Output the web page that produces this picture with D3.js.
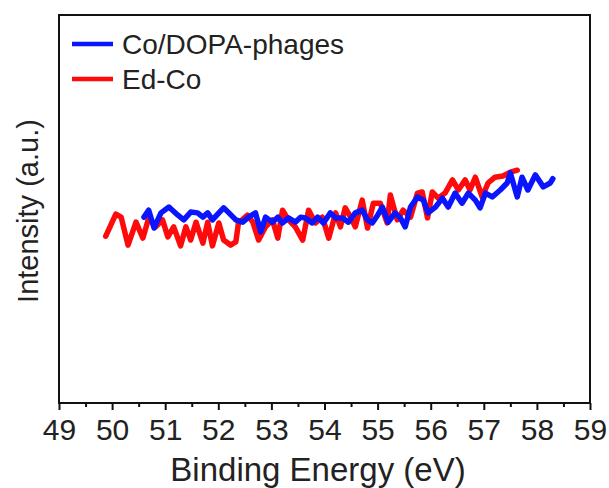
<!DOCTYPE html>
<html>
<head>
<meta charset="utf-8">
<script src="https://cdn.jsdelivr.net/npm/d3@7"></script>
<style>
  html, body { margin: 0; padding: 0; background: #fff; }
  svg { display: block; font-family: "Liberation Sans", Arial, sans-serif; }
</style>
</head>
<body>
<svg id="chart" width="609" height="488"></svg>
<script>
// Co 3p region XPS spectra (binding energy in eV, intensity in arbitrary units)
const seriesNames = ["Co/DOPA-phages", "Ed-Co"];
const seriesColors = ["#0a14ff", "#ff0a0a"];

const phageEnergy = [50.60, 50.69, 50.79, 50.92, 51.07, 51.24, 51.35, 51.48, 51.61, 51.71,
  51.80, 51.89, 52.01, 52.10, 52.20, 52.33, 52.46, 52.57, 52.70, 52.80,
  52.89, 53.02, 53.12, 53.21, 53.32, 53.45, 53.55, 53.64, 53.77, 53.87,
  53.98, 54.11, 54.21, 54.34, 54.45, 54.58, 54.71, 54.81, 54.90, 55.00,
  55.09, 55.20, 55.33, 55.43, 55.52, 55.62, 55.75, 55.86, 55.95, 56.09,
  56.22, 56.33, 56.46, 56.59, 56.71, 56.84, 56.93, 57.03, 57.16, 57.31,
  57.44, 57.50, 57.63, 57.72, 57.83, 57.97, 58.12, 58.25, 58.30];
const phageIntensity = [479, 497, 451, 490, 505, 484, 472, 492, 490, 479,
  490, 472, 490, 503, 490, 472, 466, 479, 490, 441,
  479, 466, 479, 464, 477, 466, 479, 477, 464, 479,
  464, 490, 477, 477, 466, 490, 497, 472, 464, 484,
  505, 466, 490, 477, 454, 505, 531, 523, 490, 505,
  528, 505, 541, 515, 541, 523, 503, 541, 531, 549,
  567, 593, 531, 582, 549, 588, 557, 567, 578];

const edEnergy = [49.88, 50.07, 50.17, 50.30, 50.45, 50.58, 50.69, 50.82, 50.95, 51.05,
  51.16, 51.29, 51.39, 51.48, 51.58, 51.71, 51.80, 51.89, 52.01, 52.10,
  52.23, 52.33, 52.38, 52.55, 52.65, 52.76, 52.89, 53.02, 53.12, 53.21,
  53.32, 53.45, 53.59, 53.70, 53.83, 53.96, 54.08, 54.21, 54.30, 54.39,
  54.49, 54.58, 54.71, 54.81, 54.92, 55.05, 55.18, 55.24, 55.37, 55.48,
  55.62, 55.75, 55.84, 55.94, 56.03, 56.14, 56.27, 56.41, 56.52, 56.65,
  56.74, 56.84, 56.97, 57.08, 57.21, 57.36, 57.50, 57.63];
const edIntensity = [430, 487, 479, 407, 466, 425, 477, 454, 472, 428,
  454, 405, 454, 420, 466, 412, 466, 405, 464, 420,
  407, 415, 464, 484, 466, 420, 454, 472, 425, 497,
  472, 454, 420, 497, 464, 479, 425, 490, 454, 503,
  479, 454, 523, 451, 515, 515, 464, 536, 472, 497,
  479, 541, 544, 477, 544, 528, 541, 575, 549, 575,
  549, 582, 531, 567, 582, 585, 595, 600];

const xTicks = [49, 50, 51, 52, 53, 54, 55, 56, 57, 58, 59];
const xMinorTicks = [49.5, 50.5, 51.5, 52.5, 53.5, 54.5, 55.5, 56.5, 57.5, 58.5];
const xTitle = "Binding Energy (eV)";
const yTitle = "Intensity (a.u.)";

const svg = d3.select("#chart");
const margin = { left: 59, right: 19, top: 15, bottom: 85 };
const W = 609, H = 488;
const iw = W - margin.left - margin.right;
const ih = H - margin.top - margin.bottom;

const x = d3.scaleLinear().domain([49, 59]).range([margin.left, margin.left + iw]);
const y = d3.scaleLinear().domain([0, 1000]).range([margin.top + ih, margin.top]);

const series = [
  { name: seriesNames[0], color: seriesColors[0], xs: phageEnergy, ys: phageIntensity },
  { name: seriesNames[1], color: seriesColors[1], xs: edEnergy, ys: edIntensity }
];

const line = d3.line().x(d => x(d[0])).y(d => y(d[1])).curve(d3.curveLinear);

// spectra: red drawn first, blue on top
const plot = svg.append("g");
[series[1], series[0]].forEach(s => {
  plot.append("path")
    .datum(d3.zip(s.xs, s.ys))
    .attr("fill", "none")
    .attr("stroke", s.color)
    .attr("stroke-width", 5.5)
    .attr("stroke-linejoin", "round")
    .attr("stroke-linecap", "round")
    .attr("d", line);
});

// frame
svg.append("rect")
  .attr("x", margin.left).attr("y", margin.top)
  .attr("width", iw).attr("height", ih)
  .attr("fill", "none").attr("stroke", "#111").attr("stroke-width", 2);

// bottom axis: major + minor ticks
const axisG = svg.append("g").attr("transform", `translate(0,${margin.top + ih})`);
axisG.call(d3.axisBottom(x).tickValues(xTicks).tickSize(7).tickPadding(9).tickFormat(d3.format("d")));
axisG.select(".domain").remove();
axisG.selectAll(".tick line").attr("stroke", "#111").attr("stroke-width", 2);
axisG.selectAll(".tick text")
  .attr("fill", "#222")
  .style("font-size", "30px")
  .style("font-family", "'Liberation Sans', Arial, sans-serif");
const minorG = svg.append("g").attr("transform", `translate(0,${margin.top + ih})`);
minorG.call(d3.axisBottom(x).tickValues(xMinorTicks).tickSize(4).tickFormat(""));
minorG.select(".domain").remove();
minorG.selectAll(".tick line").attr("stroke", "#111").attr("stroke-width", 2);

// axis titles
svg.append("text")
  .attr("x", 318)
  .attr("y", 481)
  .attr("text-anchor", "middle")
  .attr("fill", "#222")
  .style("font-size", "33px")
  .text(xTitle);

svg.append("text")
  .attr("transform", `translate(38,${211}) rotate(-90)`)
  .attr("text-anchor", "middle")
  .attr("fill", "#222")
  .style("font-size", "29px")
  .text(yTitle);

// legend
const legend = svg.append("g");
series.forEach((s, i) => {
  const ly = 44 + i * 35;
  legend.append("line")
    .attr("x1", 72).attr("x2", 113)
    .attr("y1", ly).attr("y2", ly)
    .attr("stroke", s.color).attr("stroke-width", 4.5);
  legend.append("text")
    .attr("x", 122).attr("y", ly + 10)
    .attr("fill", "#222")
    .style("font-size", "28px")
    .text(s.name);
});
</script>
</body>
</html>
